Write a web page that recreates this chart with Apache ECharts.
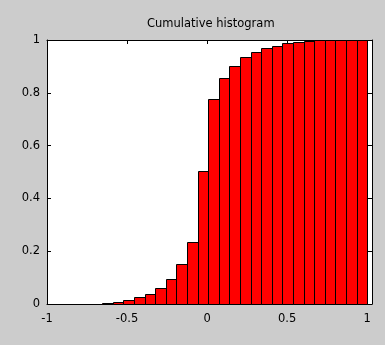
<!DOCTYPE html>
<html>
<head>
<meta charset="utf-8">
<script src="https://cdn.jsdelivr.net/npm/echarts@6/dist/echarts.min.js"></script>
<style>
html,body{margin:0;padding:0;background:#cccccc;}
#chart{width:385px;height:345px;}
</style>
</head>
<body>
<div id="chart"></div>
<script>
// Bin edges (31 edges -> 30 bins)
const binEdges = [-0.986,-0.920,-0.854,-0.787,-0.721,-0.655,-0.589,-0.523,-0.456,-0.390,
  -0.324,-0.258,-0.192,-0.125,-0.059,0.007,0.073,0.139,0.206,0.272,
  0.338,0.404,0.470,0.537,0.603,0.669,0.735,0.801,0.868,0.934,1.000];
// Cumulative fraction per bin
const cumValues = [0,0,0,0,0,0.004,0.008,0.016,0.025,0.037,
  0.062,0.095,0.150,0.233,0.504,0.776,0.855,0.903,0.935,0.954,
  0.968,0.979,0.989,0.993,0.997,1,1,1,1,1];
const xTicks = [-1,-0.5,0,0.5,1];
const yTicks = [0,0.2,0.4,0.6,0.8,1];
const titleText = 'Cumulative histogram';

const data = cumValues.map((v,i)=>[binEdges[i], binEdges[i+1], v]);
const font = 'DejaVu Sans';
const chart = echarts.init(document.getElementById('chart'), null, {renderer:'canvas'});
const lineStyle = {color:'#000', width:1};
function xLabel(v){ return xTicks.indexOf(Math.round(v*100)/100) >= 0 && v <= 1.0001 ? String(v) : ''; }
function yLabel(v){ return yTicks.indexOf(Math.round(v*100)/100) >= 0 ? String(v) : ''; }
chart.setOption({
  backgroundColor:'#cccccc',
  animation:false,
  title:{text:titleText, left:142, top:13, textStyle:{fontFamily:font, fontSize:11.5, fontWeight:'normal', color:'#000'}},
  grid:{left:47, right:13, top:40, bottom:41, show:true, backgroundColor:'#ffffff', borderWidth:0},
  xAxis:[
    {type:'value', min:-1, max:1.03, interval:0.5, position:'bottom',
     axisLine:{show:true, onZero:false, lineStyle}, axisTick:{show:true, inside:true, length:4, lineStyle},
     axisLabel:{formatter:xLabel, margin:9, color:'#000', fontFamily:font, fontSize:11.5},
     splitLine:{show:false}},
    {type:'value', min:-1, max:1.03, interval:0.5, position:'top',
     axisLine:{show:true, onZero:false, lineStyle}, axisTick:{show:true, inside:true, length:4, lineStyle},
     axisLabel:{show:false}, splitLine:{show:false}}
  ],
  yAxis:[
    {type:'value', min:0, max:1, interval:0.2, position:'left',
     axisLine:{show:true, onZero:false, lineStyle}, axisTick:{show:true, inside:true, length:4, lineStyle},
     axisLabel:{formatter:yLabel, margin:7, color:'#000', fontFamily:font, fontSize:11.5},
     splitLine:{show:false}},
    {type:'value', min:0, max:1, interval:0.2, position:'right',
     axisLine:{show:true, onZero:false, lineStyle}, axisTick:{show:true, inside:true, length:4, lineStyle},
     axisLabel:{show:false}, splitLine:{show:false}}
  ],
  series:[{
    type:'custom',
    xAxisIndex:0, yAxisIndex:0,
    data:data,
    encode:{x:[0,1], y:2},
    renderItem:function(params, api){
      const p0 = api.coord([api.value(0), api.value(2)]);
      const p1 = api.coord([api.value(1), 0]);
      const x0 = Math.round(p0[0])+0.5, x1 = Math.round(p1[0])+0.5;
      const y0 = Math.round(p0[1])+0.5, y1 = Math.round(p1[1])+0.5;
      return {type:'rect', shape:{x:x0, y:y0, width:x1-x0, height:y1-y0},
        style:{fill:'#ff0000', stroke:'#000', lineWidth:1}};
    }
  }]
});
</script>
</body>
</html>
